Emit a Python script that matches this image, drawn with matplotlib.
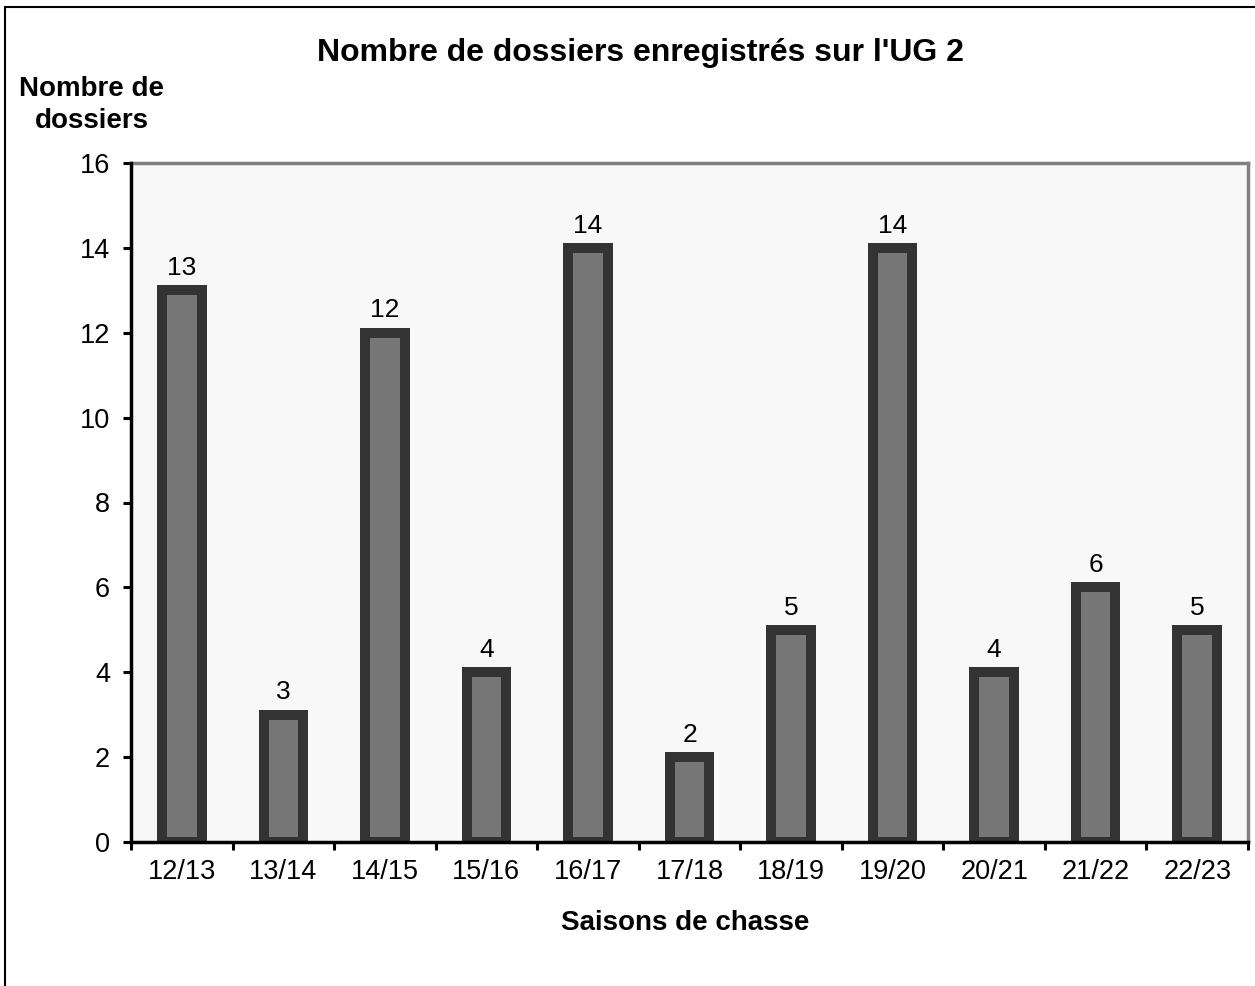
import matplotlib
matplotlib.use("Agg")
import matplotlib.pyplot as plt
from matplotlib.patches import Rectangle

seasons = ["12/13", "13/14", "14/15", "15/16", "16/17", "17/18", "18/19", "19/20", "20/21", "21/22", "22/23"]
counts = [13, 3, 12, 4, 14, 2, 5, 14, 4, 6, 5]
yticks = [0, 2, 4, 6, 8, 10, 12, 14, 16]

plt.rcParams['font.family'] = ['Liberation Sans', 'DejaVu Sans']

W, H = 1255, 986
fig = plt.figure(figsize=(W / 100, H / 100), dpi=100)
fig.patch.set_facecolor('white')

# outer border
fig.patches.append(Rectangle((5 / W, -0.05), 1.1, (H - 7) / H + 0.05, transform=fig.transFigure,
                             fill=False, edgecolor='black', linewidth=1.5))

ax = fig.add_axes([131 / W, 1 - 842 / H, (1248 - 131) / W, (842 - 163) / H])
ax.set_facecolor('#f8f8f8')

x = list(range(len(seasons)))
ax.bar(x, counts, width=0.39, color='#777777', edgecolor='#333333', linewidth=7.2, zorder=3)

for xi, v in zip(x, counts):
    ax.annotate(str(v), (xi, v), xytext=(0, 11), textcoords='offset points',
                ha='center', va='baseline', fontsize=19)

ax.set_xlim(-0.5, len(seasons) - 0.5)
ax.set_ylim(0, 16)
ax.set_yticks(yticks)
ax.set_yticklabels([str(t) for t in yticks], fontsize=19.5)
ax.set_xticks(x)
ax.set_xticklabels(seasons, fontsize=19.5)
ax.set_xticks([i - 0.5 for i in range(len(seasons) + 1)], minor=True)
ax.tick_params(axis='x', which='major', length=0, pad=12.5)
ax.tick_params(axis='x', which='minor', length=6, width=2.2, direction='out', color='black')
ax.tick_params(axis='y', which='major', length=6, width=2.2, direction='out', pad=9)

for s in ['left', 'bottom']:
    ax.spines[s].set_color('black')
    ax.spines[s].set_linewidth(2.5)
    ax.spines[s].set_zorder(5)
for s in ['top', 'right']:
    ax.spines[s].set_color('#808080')
    ax.spines[s].set_linewidth(2.5)

fig.text(640 / W, 1 - 53 / H, "Nombre de dossiers enregistrés sur l'UG 2", ha='center', va='center',
         fontsize=23, fontweight='bold')
fig.text(92 / W, 1 - 105 / H, "Nombre de\ndossiers", ha='center', va='center',
         fontsize=20, fontweight='bold', linespacing=1.25)
fig.text(685 / W, 1 - 923 / H, "Saisons de chasse", ha='center', va='center',
         fontsize=20, fontweight='bold')

fig.savefig("out.png", dpi=100)
